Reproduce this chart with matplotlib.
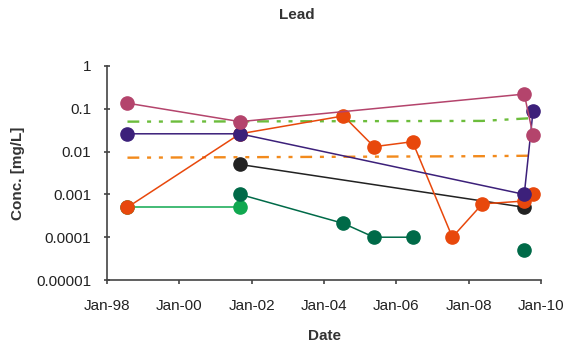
import numpy as np
import pandas as pd
import matplotlib
matplotlib.use("Agg")
import matplotlib.pyplot as plt
import matplotlib.dates as mdates

plt.rcParams['font.family'] = ['Liberation Sans', 'DejaVu Sans']

# sampling dates and lead results (mg/L)
pink_dates = ['1998-07-27', '2001-09-05', '2009-07-15', '2009-10-12']
pink_vals = [0.135, 0.05, 0.22, 0.024]

purple_dates = ['1998-07-27', '2001-09-05', '2009-07-15', '2009-10-12']
purple_vals = [0.026, 0.026, 0.001, 0.09]

orange_dates = ['1998-07-27', '2001-09-05', '2004-07-15', '2005-05-20', '2006-06-13',
                '2007-07-20', '2008-05-18', '2009-07-15', '2009-10-12']
orange_vals = [0.0005, 0.026, 0.068, 0.013, 0.017, 0.0001, 0.0006, 0.0007, 0.001]

black_dates = ['2001-09-05', '2009-07-15']
black_vals = [0.005, 0.0005]

dkgreen_dates = ['2001-09-05', '2004-07-15', '2005-05-20', '2006-06-13', '2008-01-01', '2009-07-15']
dkgreen_vals = [0.001, 0.00021, 0.0001, 0.0001, np.nan, 0.00005]

ltgreen_dates = ['1998-07-27', '2001-09-05']
ltgreen_vals = [0.0005, 0.0005]

# guideline levels
gl_green_dates = ['1998-07-27', '2008-05-18', '2009-09-10']
gl_green_vals = [0.05, 0.052, 0.06]
gl_orange_dates = ['1998-07-27', '2008-05-18', '2009-09-10']
gl_orange_vals = [0.0072, 0.0078, 0.008]

yticks = [1, 0.1, 0.01, 0.001, 0.0001, 0.00001]
ytick_labels = ['1', '0.1', '0.01', '0.001', '0.0001', '0.00001']

fig = plt.figure(figsize=(5.66, 3.47), dpi=100)
ax = fig.add_axes([0.189, 0.193, 0.767, 0.617])

d = pd.to_datetime
gl_dash = (5, 3.3, 1.7, 3.3, 1.7, 3.3)
ax.plot(d(gl_green_dates), gl_green_vals, color='#6cbd3c', lw=1.7, dashes=gl_dash, zorder=2)
ax.plot(d(gl_orange_dates), gl_orange_vals, color='#f28a1c', lw=1.7, dashes=gl_dash, zorder=2)

ms = 9.5
lw = 1.1
ax.plot(d(ltgreen_dates), ltgreen_vals, '-o', color='#10a850', ms=ms, lw=lw, zorder=3)
ax.plot(d(dkgreen_dates), dkgreen_vals, '-o', color='#006a48', ms=ms, lw=lw, zorder=3)
ax.plot(d(black_dates), black_vals, '-o', color='#222222', ms=ms, lw=lw, zorder=3)
ax.plot(d(orange_dates), orange_vals, '-o', color='#e8480c', ms=ms, lw=lw, zorder=4)
ax.plot(d(purple_dates), purple_vals, '-o', color='#3c207a', ms=ms, lw=lw, zorder=5)
ax.plot(d(pink_dates), pink_vals, '-o', color='#b4446c', ms=ms, lw=lw, zorder=5)

ax.set_yscale('log')
ax.set_ylim(0.00001, 1)
ax.set_yticks(yticks)
ax.set_yticklabels(ytick_labels)
ax.yaxis.set_minor_locator(matplotlib.ticker.NullLocator())

ax.set_xlim(d('1998-01-01'), d('2010-01-01'))
ax.xaxis.set_major_locator(mdates.YearLocator(2))
ax.xaxis.set_major_formatter(mdates.DateFormatter('%b-%y'))

for s in ['top', 'right']:
    ax.spines[s].set_visible(False)
for s in ['left', 'bottom']:
    ax.spines[s].set_color('#444444')
    ax.spines[s].set_linewidth(1.2)
ax.tick_params(colors='#444444', labelcolor='#222222', labelsize=11, width=1.2)
ax.tick_params(axis='y', direction='inout', length=5, pad=9)
ax.tick_params(axis='x', direction='out', length=3, pad=11)

fig.text(297 / 566, 1 - 15 / 347, 'Lead', fontsize=11, fontweight='bold',
         color='#333333', ha='center', va='center')
ax.set_xlabel('Date', fontsize=11, fontweight='bold', color='#333333', va='center')
ax.xaxis.set_label_coords(0.5, -0.262)
ax.set_ylabel('Conc. [mg/L]', fontsize=11, fontweight='bold', color='#333333', va='center')
ax.yaxis.set_label_coords(-0.205, 0.5)

fig.savefig('out.png', dpi=100)
